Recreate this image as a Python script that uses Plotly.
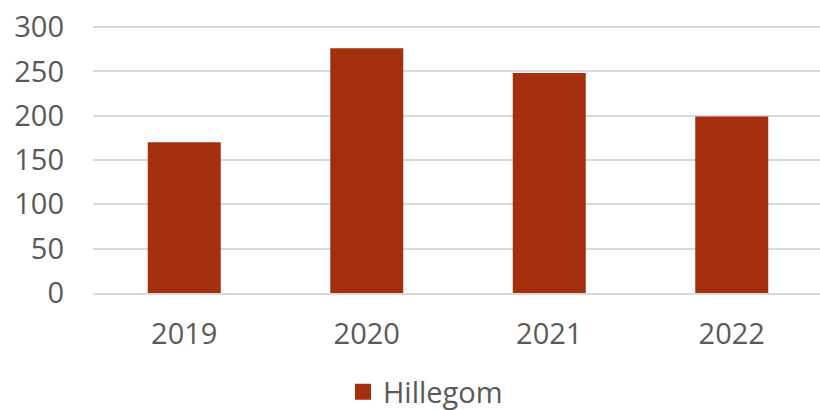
import plotly.graph_objects as go

years = ["2019", "2020", "2021", "2022"]
hillegom = [170, 276, 248, 199]
series_name = "Hillegom"
y_ticks = [0, 50, 100, 150, 200, 250, 300]

bar_color = "#A42F0F"
text_color = "#595959"
grid_color = "#D9D9D9"
font_family = "Open Sans"

W, H = 823, 410

fig = go.Figure()
fig.add_trace(go.Bar(
    x=years, y=hillegom, name=series_name,
    marker=dict(color=bar_color, line=dict(width=0)),
    showlegend=False,
))
fig.add_trace(go.Scatter(
    x=[None], y=[None], mode="markers", name=series_name,
    marker=dict(symbol="square", size=16, color=bar_color),
    showlegend=True,
))

fig.update_layout(
    width=W, height=H,
    margin=dict(l=93, r=0, t=24, b=117, autoexpand=False),
    paper_bgcolor="white", plot_bgcolor="white",
    font=dict(family=font_family, size=29, color=text_color),
    bargap=0.6,
    showlegend=True,
    legend=dict(
        orientation="h", xref="container", yref="container",
        x=0.517, xanchor="center", y=0.044, yanchor="middle",
        font=dict(size=29, color=text_color),
        itemwidth=30, tracegroupgap=0,
    ),
    xaxis=dict(
        type="category", range=[-0.5, 3.5], automargin=False,
        showline=True, linecolor=grid_color, linewidth=1.5,
        showgrid=False, ticks="", ticklabelstandoff=14,
        tickfont=dict(size=29, color=text_color),
    ),
    yaxis=dict(
        range=[0, 303.4], tickvals=y_ticks, automargin=False,
        showgrid=True, gridcolor=grid_color, gridwidth=1.5,
        zeroline=False, showline=False, ticks="",
        ticklabelstandoff=28, ticklabeloverflow="allow",
        tickfont=dict(size=29, color=text_color),
    ),
)

fig.write_html(
    "out.html",
    config={"displayModeBar": False},
    post_script="document.body.style.margin='0';document.body.style.overflow='hidden';",
)
